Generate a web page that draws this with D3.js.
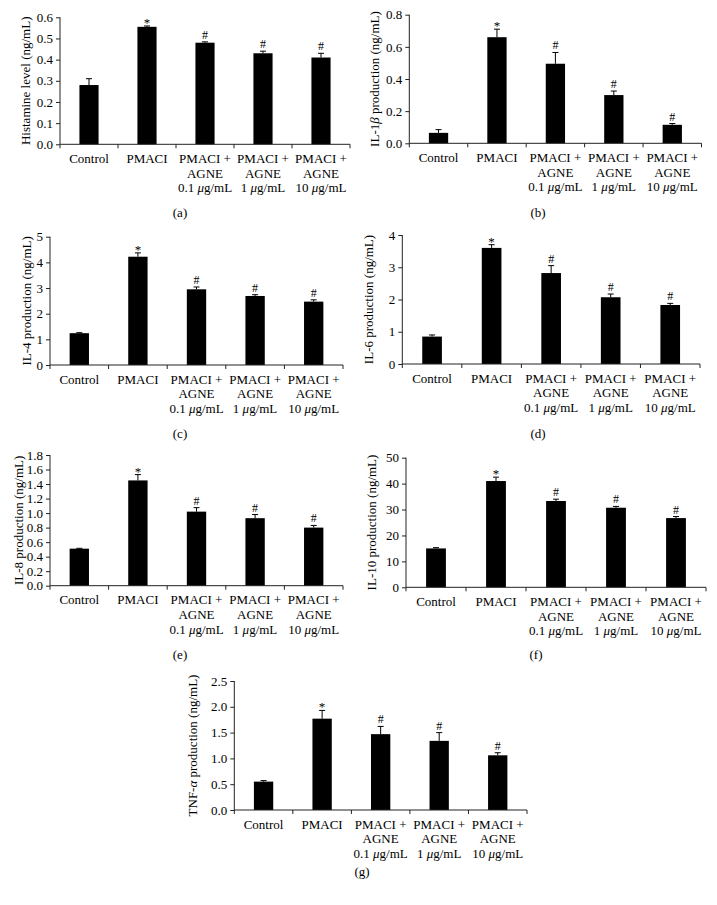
<!DOCTYPE html>
<html>
<head>
<meta charset="utf-8">
<script src="https://cdn.jsdelivr.net/npm/d3@7"></script>
<style>
  body { margin: 0; background: #fff; }
  svg { display: block; }
  text { font-family: "Liberation Serif", "Times New Roman", serif; fill: #000; }
</style>
</head>
<body>
<svg id="chart" width="717" height="905"></svg>
<script>
// ---------- DATA ----------
const categories = ["Control", "PMACI", "PMACI + AGNE 0.1", "PMACI + AGNE 1", "PMACI + AGNE 10"];
const categoryLines = [
  [["Control"]],
  [["PMACI"]],
  [["PMACI +"], ["AGNE"], ["0.1 ", "μ", "g/mL"]],
  [["PMACI +"], ["AGNE"], ["1 ", "μ", "g/mL"]],
  [["PMACI +"], ["AGNE"], ["10 ", "μ", "g/mL"]]
];
const markers = ["", "*", "#", "#", "#"];

const histamineValues = [0.28, 0.555, 0.48, 0.43, 0.41];
const histamineErrors = [0.03, 0.004, 0.004, 0.01, 0.02];
const histamineTicks = [0.0, 0.1, 0.2, 0.3, 0.4, 0.5, 0.6];

const il1bValues = [0.065, 0.66, 0.495, 0.30, 0.115];
const il1bErrors = [0.02, 0.05, 0.07, 0.025, 0.008];
const il1bTicks = [0.0, 0.2, 0.4, 0.6, 0.8];

const il4Values = [1.24, 4.22, 2.95, 2.69, 2.47];
const il4Errors = [0.02, 0.15, 0.09, 0.05, 0.07];
const il4Ticks = [0, 1, 2, 3, 4, 5];

const il6Values = [0.85, 3.6, 2.82, 2.07, 1.83];
const il6Errors = [0.05, 0.1, 0.23, 0.1, 0.05];
const il6Ticks = [0, 1, 2, 3, 4];

const il8Values = [0.51, 1.45, 1.02, 0.93, 0.80];
const il8Errors = [0.005, 0.08, 0.055, 0.05, 0.03];
const il8Ticks = [0.0, 0.2, 0.4, 0.6, 0.8, 1.0, 1.2, 1.4, 1.6, 1.8];

const il10Values = [15.0, 41.0, 33.3, 30.7, 26.7];
const il10Errors = [0.3, 1.5, 0.7, 0.5, 0.6];
const il10Ticks = [0, 10, 20, 30, 40, 50];

const tnfValues = [0.55, 1.77, 1.47, 1.34, 1.06];
const tnfErrors = [0.02, 0.16, 0.15, 0.16, 0.05];
const tnfTicks = [0.0, 0.5, 1.0, 1.5, 2.0, 2.5];

// ---------- LAYOUT ----------
const panels = [
  { values: histamineValues, errors: histamineErrors, ticks: histamineTicks, fmt: ".1f",
    label: [["Histamine level (ng/mL)", false]], caption: "(a)",
    x0: 60, x1: 350, yTop: 17.3, y0: 144.3, labelX: 25, capX: 180, capY: 217 },
  { values: il1bValues, errors: il1bErrors, ticks: il1bTicks, fmt: ".1f",
    label: [["IL-1", false], ["β", true], [" production (ng/mL)", false]], caption: "(b)",
    x0: 409.3, x1: 701.5, yTop: 14.7, y0: 143.3, labelX: 374, capX: 538, capY: 217 },
  { values: il4Values, errors: il4Errors, ticks: il4Ticks, fmt: "d",
    label: [["IL-4 production (ng/mL)", false]], caption: "(c)",
    x0: 50, x1: 343, yTop: 236.7, y0: 365, labelX: 26, capX: 180, capY: 438 },
  { values: il6Values, errors: il6Errors, ticks: il6Ticks, fmt: "d",
    label: [["IL-6 production (ng/mL)", false]], caption: "(d)",
    x0: 402.3, x1: 700, yTop: 235, y0: 364, labelX: 368, capX: 538, capY: 438 },
  { values: il8Values, errors: il8Errors, ticks: il8Ticks, fmt: ".1f",
    label: [["IL-8 production (ng/mL)", false]], caption: "(e)",
    x0: 50, x1: 343, yTop: 455, y0: 585.7, labelX: 18, capX: 180, capY: 659 },
  { values: il10Values, errors: il10Errors, ticks: il10Ticks, fmt: "d",
    label: [["IL-10 production (ng/mL)", false]], caption: "(f)",
    x0: 406, x1: 706, yTop: 457.7, y0: 587.3, labelX: 371, capX: 536, capY: 659 },
  { values: tnfValues, errors: tnfErrors, ticks: tnfTicks, fmt: ".1f",
    label: [["TNF-", false], ["α", true], [" production (ng/mL)", false]], caption: "(g)",
    x0: 234.3, x1: 527, yTop: 681, y0: 810, labelX: 192, capX: 362, capY: 876 }
];

const svg = d3.select("#chart");
const fontSize = 13;
const axisColor = "#222";

panels.forEach(p => {
  const g = svg.append("g");
  const yMax = p.ticks[p.ticks.length - 1];
  const x = d3.scaleBand().domain(categories).range([p.x0, p.x1]).paddingInner(0).paddingOuter(0);
  const y = d3.scaleLinear().domain([0, yMax]).range([p.y0, p.yTop]);
  const bw = x.bandwidth() * 0.33;

  // bars
  g.selectAll("rect.bar").data(p.values).enter().append("rect")
    .attr("class", "bar")
    .attr("x", (d, i) => x(categories[i]) + x.bandwidth() / 2 - bw / 2)
    .attr("width", bw)
    .attr("y", d => y(d))
    .attr("height", d => y(0) - y(d))
    .attr("fill", "#000");

  // error bars (upper only)
  p.values.forEach((v, i) => {
    const cx = x(categories[i]) + x.bandwidth() / 2;
    const top = y(v + p.errors[i]);
    g.append("line").attr("x1", cx).attr("x2", cx).attr("y1", y(v)).attr("y2", top)
      .attr("stroke", "#000").attr("stroke-width", 1);
    g.append("line").attr("x1", cx - 3).attr("x2", cx + 3).attr("y1", top).attr("y2", top)
      .attr("stroke", "#000").attr("stroke-width", 1);
    if (markers[i]) {
      const star = markers[i] === "*";
      g.append("text").attr("x", cx).attr("y", star ? top + 1 : top - 3)
        .attr("text-anchor", "middle")
        .attr("font-size", star ? 13 : 12)
        .text(markers[i]);
    }
  });

  // y axis
  const yAxis = d3.axisLeft(y).tickValues(p.ticks).tickSize(4).tickPadding(3)
    .tickFormat(d3.format(p.fmt));
  const ya = g.append("g").attr("transform", `translate(${p.x0},0)`).call(yAxis);
  ya.select(".domain").attr("stroke", axisColor).attr("d", `M0,${p.yTop}V${p.y0}`);
  ya.selectAll(".tick line").attr("stroke", axisColor);
  ya.selectAll(".tick text").attr("font-size", fontSize)
    .attr("font-family", '"Liberation Serif", "Times New Roman", serif').attr("fill", "#000");

  // x axis line with boundary ticks
  g.append("line").attr("x1", p.x0).attr("x2", p.x1).attr("y1", p.y0).attr("y2", p.y0)
    .attr("stroke", axisColor).attr("stroke-width", 1);
  const bounds = categories.map(c => x(c)).concat([p.x1]);
  g.selectAll("line.xt").data(bounds).enter().append("line")
    .attr("class", "xt")
    .attr("x1", d => d).attr("x2", d => d)
    .attr("y1", p.y0).attr("y2", p.y0 + 4)
    .attr("stroke", axisColor);

  // category labels
  categories.forEach((c, i) => {
    const cx = x(c) + x.bandwidth() / 2;
    const t = g.append("text").attr("text-anchor", "middle").attr("font-size", fontSize);
    categoryLines[i].forEach((line, li) => {
      line.forEach((seg, si) => {
        const ts = t.append("tspan").text(seg);
        if (si === 0) ts.attr("x", cx).attr("y", p.y0 + 18.5 + li * 14.8);
        if (seg === "μ") ts.attr("font-style", "italic");
      });
    });
  });

  // y label
  const lab = g.append("text")
    .attr("transform", `translate(${p.labelX},${(p.yTop + p.y0) / 2}) rotate(-90)`)
    .attr("text-anchor", "middle").attr("font-size", fontSize).attr("dy", "0.35em");
  p.label.forEach(([s, it]) => {
    const ts = lab.append("tspan").text(s);
    if (it) ts.attr("font-style", "italic");
  });

  // caption
  g.append("text").attr("x", p.capX).attr("y", p.capY).attr("text-anchor", "middle")
    .attr("font-size", fontSize).text(p.caption);
});
</script>
</body>
</html>
